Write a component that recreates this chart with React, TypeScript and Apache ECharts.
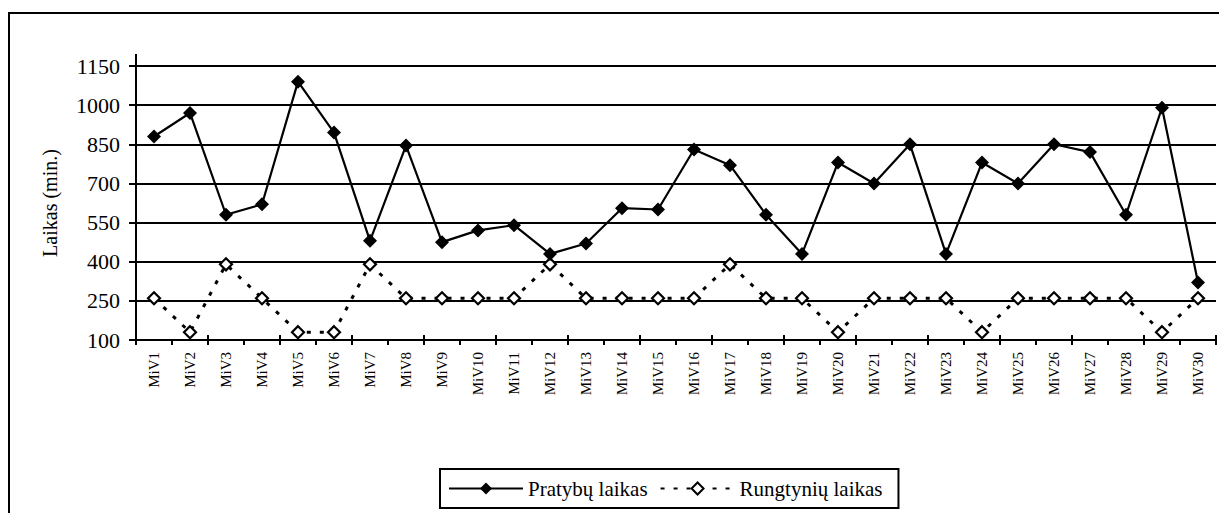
import React, { useEffect, useRef } from "react";
import * as echarts from "echarts";

// Session labels along the category axis
const categories = [
  "MiV1", "MiV2", "MiV3", "MiV4", "MiV5", "MiV6", "MiV7", "MiV8", "MiV9", "MiV10",
  "MiV11", "MiV12", "MiV13", "MiV14", "MiV15", "MiV16", "MiV17", "MiV18", "MiV19", "MiV20",
  "MiV21", "MiV22", "MiV23", "MiV24", "MiV25", "MiV26", "MiV27", "MiV28", "MiV29", "MiV30",
];

// Training time (min.)
const pratybuLaikas = [
  880, 970, 580, 620, 1090, 895, 480, 845, 475, 520,
  540, 430, 470, 605, 600, 830, 770, 580, 430, 780,
  700, 850, 430, 780, 700, 850, 820, 580, 990, 320,
];

// Competition time (min.)
const rungtyniuLaikas = [
  260, 130, 390, 260, 130, 130, 390, 260, 260, 260,
  260, 390, 260, 260, 260, 260, 390, 260, 260, 130,
  260, 260, 260, 130, 260, 260, 260, 260, 130, 260,
];

// Value axis range and step
const yMin = 100;
const yMax = 1150;
const yStep = 150;

const FONT = "'Liberation Serif', 'Times New Roman', serif";
const GRID = { left: 136, right: 3, top: 66, bottom: 173 };

export default function App() {
  const ref = useRef<HTMLDivElement>(null);

  useEffect(() => {
    const chart = echarts.init(ref.current!, null, { renderer: "svg" });
    chart.setOption({
      animation: false,
      backgroundColor: "#ffffff",
      textStyle: { fontFamily: FONT, color: "#000" },
      grid: { ...GRID, containLabel: false },
      graphic: [
        {
          type: "rect",
          shape: { x: 9, y: 13, width: 1400, height: 700 },
          style: { fill: "none", stroke: "#000", lineWidth: 2 },
          silent: true,
        },
        {
          // axis line continues a little above the top gridline
          type: "line",
          shape: { x1: GRID.left, y1: GRID.top - 12, x2: GRID.left, y2: GRID.top },
          style: { stroke: "#000", lineWidth: 2 },
          silent: true,
        },
      ],
      legend: {
        left: 440,
        top: 469,
        orient: "horizontal",
        borderColor: "#000",
        borderWidth: 2,
        padding: [9, 16, 9, 8],
        itemWidth: 74,
        itemHeight: 15,
        itemGap: 12,
        textStyle: { fontFamily: FONT, fontSize: 21, color: "#000" },
        data: ["Pratybų laikas", "Rungtynių laikas"],
      },
      xAxis: [
        {
          type: "category",
          data: categories,
          boundaryGap: true,
          axisLine: { show: true, lineStyle: { color: "#000", width: 2 } },
          axisTick: { show: true, inside: false, length: 5, lineStyle: { color: "#000", width: 2 } },
          axisLabel: {
            interval: 0,
            rotate: 90,
            margin: 12,
            fontFamily: FONT,
            fontSize: 15,
            color: "#000",
          },
          splitLine: { show: false },
        },
        {
          // inner half of the crossing tick marks
          type: "category",
          data: categories,
          position: "bottom",
          boundaryGap: true,
          axisLine: { show: false },
          axisTick: { show: true, inside: true, length: 5, lineStyle: { color: "#000", width: 2 } },
          axisLabel: { show: false },
          splitLine: { show: false },
        },
      ],
      yAxis: {
        type: "value",
        min: yMin,
        max: yMax,
        interval: yStep,
        name: "Laikas (min.)",
        nameLocation: "middle",
        nameGap: 76,
        nameRotate: 90,
        nameTextStyle: { fontFamily: FONT, fontSize: 20, color: "#000" },
        axisLine: { show: true, lineStyle: { color: "#000", width: 2 } },
        axisTick: { show: true, inside: false, length: 7, lineStyle: { color: "#000", width: 2 } },
        axisLabel: {
          margin: 16,
          fontFamily: FONT,
          fontSize: 22,
          color: "#000",
          formatter: (v: number) => String(v),
        },
        splitLine: { show: true, lineStyle: { color: "#000", width: 2 } },
      },
      series: [
        {
          name: "Pratybų laikas",
          type: "line",
          data: pratybuLaikas,
          xAxisIndex: 0,
          symbol: "diamond",
          symbolSize: 14,
          showAllSymbol: true,
          lineStyle: { color: "#000", width: 2.2, type: "solid" },
          itemStyle: { color: "#000", borderColor: "#000", borderWidth: 0 },
          z: 3,
        },
        {
          name: "Rungtynių laikas",
          type: "line",
          data: rungtyniuLaikas,
          xAxisIndex: 0,
          symbol: "diamond",
          symbolSize: 12,
          showAllSymbol: true,
          lineStyle: { color: "#000", width: 3, type: [4, 9] },
          itemStyle: { color: "#fff", borderColor: "#000", borderWidth: 2.2 },
          z: 2,
        },
      ],
    });
    return () => chart.dispose();
  }, []);

  return (
    <div
      ref={ref}
      style={{ position: "absolute", left: 0, top: 0, width: 1219, height: 513, background: "#fff" }}
    />
  );
}
